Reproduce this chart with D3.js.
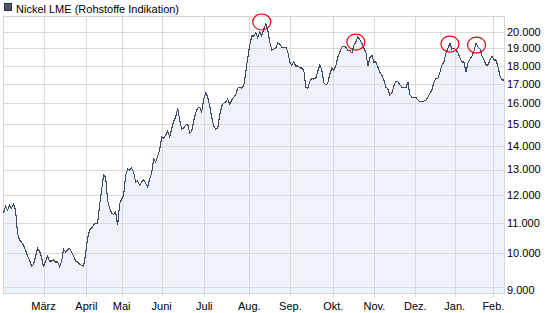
<!DOCTYPE html>
<html>
<head>
<meta charset="utf-8">
<script src="https://cdn.jsdelivr.net/npm/d3@7"></script>
<style>
  body { margin: 0; background: #fff; }
  text { font-family: "Liberation Sans", Arial, sans-serif; font-size: 11px; fill: #000; }
</style>
</head>
<body>
<div id="chart"></div>
<script>
// Nickel LME, one value per trading day (Feb - Feb)
var prices = [
  11340, 11590, 11450, 11630, 11520, 11660, 11450, 10650, 10420, 10350,
  10260, 10100, 9910, 9790, 9600, 9660, 9910, 10160, 10070, 9880,
  9570, 9760, 9910, 9760, 9760, 9790, 9730, 9730, 9600, 9730,
  10130, 10040, 10100, 10160, 10040, 9910, 9760, 9730, 9660, 9630,
  9600, 9970, 10490, 10750, 10820, 10920, 10990, 10990, 11630, 12190,
  12770, 12700, 11810, 11520, 11340, 11300, 11380, 10920, 11660, 11850,
  12000, 12770, 13020, 12980, 13060, 12900, 12500, 12540, 12380, 12500,
  12580, 12460, 12300, 12620, 12860, 13430, 13310, 13560, 13820, 14390,
  14350, 14480, 14660, 14390, 14760, 15130, 15320, 15760, 15180, 14760,
  14800, 14940, 14990, 14570, 14660, 15130, 15520, 15760, 15810, 15560,
  16210, 16520, 16310, 15860, 15320, 14900, 14760, 14800, 15420, 15860,
  16010, 16060, 16210, 15960, 16160, 16310, 16420, 16780, 16830, 16780,
  16890, 17640, 18440, 19200, 19750, 19750, 19940, 19630, 20000, 19750,
  20190, 20510, 20130, 19380, 18900, 18960, 19020, 19320, 19260, 19080,
  19080, 19080, 18790, 18210, 18040, 18210, 17980, 17980, 17870, 17870,
  17750, 16830, 16780, 17150, 17310, 17260, 17310, 17700, 18040, 17750,
  17050, 16940, 17050, 17530, 17870, 17750, 17980, 18490, 18790, 19080,
  19140, 19080, 18900, 18900, 18730, 19200, 19380, 19690, 19510, 19320,
  19020, 18790, 17980, 18440, 18610, 18210, 18210, 17920, 17640, 17480,
  17210, 16830, 16730, 16420, 16520, 16890, 17150, 17100, 16940, 16830,
  16830, 16780, 17100, 16420, 16310, 16310, 16310, 16160, 16060, 16110,
  16110, 16160, 16310, 16520, 16680, 17100, 17310, 17310, 17640, 18040,
  18210, 18730, 19020, 19320, 18960, 19020, 18900, 18730, 18440, 18210,
  18210, 17640, 18150, 18380, 18550, 18840, 19320, 19080, 18960, 18550,
  18320, 18040, 18040, 18320, 18550, 18320, 18320, 17920, 17420, 17210,
  17210
];

var monthLabels = ["März", "April", "Mai", "Juni", "Juli", "Aug.", "Sep.", "Okt.", "Nov.", "Dez.", "Jan.", "Feb."];
// trading-day index where each month begins
var monthStarts = [20, 41.4, 59, 79, 100.3, 122.8, 143.3, 164.7, 185.3, 205.7, 225.4, 244.7];

var yTicks = [9000, 10000, 11000, 12000, 13000, 14000, 15000, 16000, 17000, 18000, 19000, 20000];

// the marked highs
var highIdx = [129, 176, 223, 236.3];
var highVal = [20640, 19380, 19260, 19200];

var svgWidth = 551;
var svgHeight = 313;

var plot = { left: 3, right: 504, top: 16, bottom: 293 };

var svg = d3.select("#chart")
  .append("svg")
  .attr("width", svgWidth)
  .attr("height", svgHeight);

var xScale = d3.scaleLinear()
  .domain([0, prices.length - 1])
  .range([plot.left + 0.5, plot.right]);

var yScale = d3.scaleLog()
  .domain([8830, 21030])
  .range([plot.bottom, plot.top]);

var de = d3.formatLocale({ decimal: ",", thousands: ".", grouping: [3], currency: ["", " €"] });
var fmt = de.format(",d");

var crisp = function(v) { return Math.round(v) + 0.5; };

// area under the line
var area = d3.area()
  .x((d, i) => xScale(i))
  .y0(plot.bottom)
  .y1(d => yScale(d));

svg.append("path")
  .datum(prices)
  .attr("d", area)
  .attr("fill", "#eef2fb");

// grid
var grid = svg.append("g").attr("stroke", "#dadada").attr("stroke-width", 1);

grid.selectAll(".hgrid")
  .data(yTicks)
  .enter()
  .append("line")
  .attr("x1", plot.left)
  .attr("x2", plot.right)
  .attr("y1", d => crisp(yScale(d)))
  .attr("y2", d => crisp(yScale(d)));

grid.selectAll(".vgrid")
  .data(monthStarts)
  .enter()
  .append("line")
  .attr("x1", d => crisp(xScale(d)))
  .attr("x2", d => crisp(xScale(d)))
  .attr("y1", plot.top)
  .attr("y2", plot.bottom + 4);

// frame
svg.append("rect")
  .attr("x", plot.left + 0.5)
  .attr("y", plot.top + 0.5)
  .attr("width", plot.right - plot.left)
  .attr("height", plot.bottom - plot.top)
  .attr("fill", "none")
  .attr("stroke", "#d6d6d6");

// price line, drawn aliased like the original
var line = d3.line()
  .x((d, i) => xScale(i))
  .y(d => yScale(d));

svg.append("path")
  .datum(prices)
  .attr("d", line)
  .attr("fill", "none")
  .attr("stroke", "#3f4862")
  .attr("stroke-width", 1.1)
  .attr("shape-rendering", "crispEdges");

// red circles round the highs
svg.selectAll(".high")
  .data(highIdx)
  .enter()
  .append("ellipse")
  .attr("cx", d => xScale(d))
  .attr("cy", (d, i) => yScale(highVal[i]))
  .attr("rx", 9)
  .attr("ry", 8)
  .attr("fill", "none")
  .attr("stroke", "#e8000b")
  .attr("stroke-width", 1.2);

// y labels on the right
svg.selectAll(".ylab")
  .data(yTicks)
  .enter()
  .append("text")
  .attr("x", plot.right + 3)
  .attr("y", d => yScale(d))
  .attr("dy", d => d === 9000 ? "0.6em" : "0.35em")
  .text(d => fmt(d));

// month labels
svg.selectAll(".xlab")
  .data(monthStarts)
  .enter()
  .append("text")
  .attr("x", d => xScale(d))
  .attr("y", 310)
  .attr("text-anchor", "middle")
  .text((d, i) => monthLabels[i]);

// legend
svg.append("rect")
  .attr("x", 4.5)
  .attr("y", 3.5)
  .attr("width", 7)
  .attr("height", 7)
  .attr("fill", "#4f566b")
  .attr("stroke", "#2e3340");

svg.append("text")
  .attr("x", 16)
  .attr("y", 13)
  .text("Nickel LME (Rohstoffe Indikation)");
</script>
</body>
</html>
